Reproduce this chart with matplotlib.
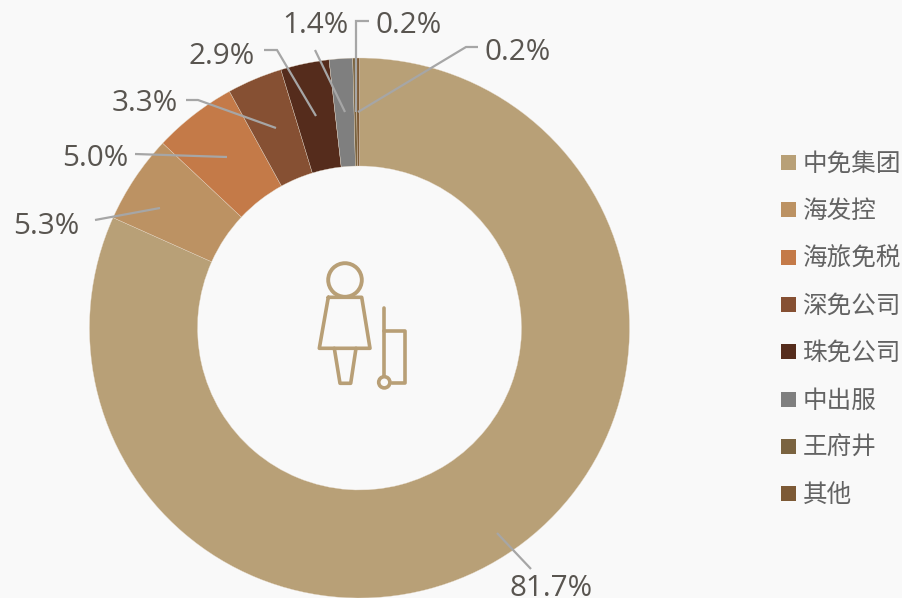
import matplotlib
matplotlib.use("Agg")
import matplotlib.pyplot as plt
from matplotlib.patches import Circle, Rectangle

plt.rcParams['font.family'] = ['Noto Sans CJK SC', 'DejaVu Sans']

# data
names = ['中免集团', '海发控', '海旅免税', '深免公司', '珠免公司', '中出服', '王府井', '其他']
shares = [81.7, 5.3, 5.0, 3.3, 2.9, 1.4, 0.2, 0.2]
labels = ['81.7%', '5.3%', '5.0%', '3.3%', '2.9%', '1.4%', '0.2%', '0.2%']

# style and layout (pixel positions; y is the text baseline)
colors = ['#B8A077', '#BC9263', '#C47A48', '#865033', '#552C1C', '#7F7F7F', '#7A6340', '#7D5A36']
W, H = 902, 598
BG = '#F9F9F9'
label_pos = [(551, 596), (46.5, 234), (95, 166), (145, 111), (222, 64), (315.5, 33), (409, 33), (518, 60)]
leaders = [
    [(497, 533), (531, 569)],
    [(160, 208), (95, 220)],
    [(227, 157), (135, 154)],
    [(276, 128), (198, 100), (186, 100)],
    [(316, 116), (277, 50), (264, 50)],
    [(345, 112), (315, 50)],
    [(356, 112), (356, 21), (369, 21)],
    [(358, 112), (466, 47), (478, 47)],
]
Y = lambda py: H - py

fig = plt.figure(figsize=(W / 100, H / 100), dpi=100, facecolor=BG)
ax = fig.add_axes([0, 0, 1, 1])

ax.pie(shares, colors=colors, startangle=90, counterclock=False, radius=270,
       center=(359.5, Y(328)), frame=True,
       wedgeprops=dict(width=108, edgecolor='#E6D9C8', linewidth=0.25))
ax.set_xlim(0, W)
ax.set_ylim(0, H)
ax.set_aspect('equal')
ax.axis('off')

for pts in leaders:
    ax.plot([p[0] for p in pts], [Y(p[1]) for p in pts], color='#A6A6A6', lw=1.6,
            solid_capstyle='butt', solid_joinstyle='miter', zorder=5)

for text, (x, y) in zip(labels, label_pos):
    ax.text(x, Y(y), text, fontsize=21.3, family='Open Sans', color='#595550',
            ha='center', va='baseline', zorder=6, clip_on=False)

for i, (name, color) in enumerate(zip(names, colors)):
    py = 162.5 + i * 47.3
    ax.add_patch(Rectangle((781, Y(py + 7.5)), 15, 15, fc=color, ec='none'))
    ax.text(802.5, Y(py + 1.5), name, fontsize=17.7, color='#636363', ha='left', va='center')

# traveller icon
ic = dict(color='#B89F76', lw=2.6, solid_joinstyle='round', solid_capstyle='round', zorder=7)
ax.add_patch(Circle((345, Y(280)), 16.8, fc='none', ec='#B89F76', lw=2.8, zorder=7))
paths = [
    [(328.3, 297.3), (361.7, 297.3), (370, 348.3), (319.3, 348.3), (328.3, 297.3)],
    [(334.3, 348.3), (340, 383.3), (350.7, 383.3), (356, 348.3)],
    [(384.3, 307.7), (384.3, 376)],
    [(384.3, 330.7), (405, 330.7), (405, 383.3), (391.7, 383.3)],
]
for p in paths:
    ax.plot([q[0] for q in p], [Y(q[1]) for q in p], **ic)
ax.add_patch(Circle((384.3, Y(382.3)), 5.6, fc=BG, ec='#B89F76', lw=2.6, zorder=7))

fig.savefig('out.png', dpi=100, facecolor=BG)
